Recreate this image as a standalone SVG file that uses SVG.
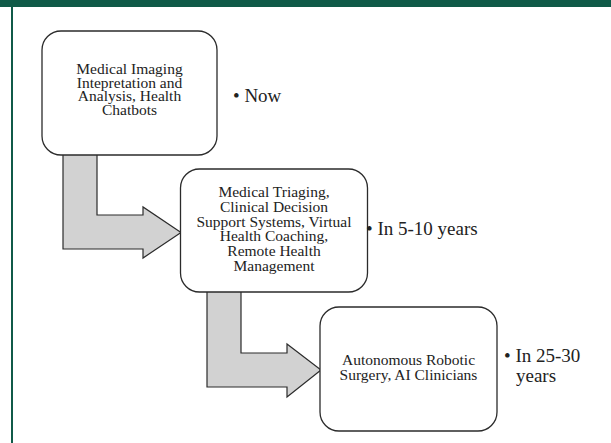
<svg xmlns="http://www.w3.org/2000/svg" width="611" height="443" viewBox="0 0 611 443">
<style>
.box{fill:#fff;stroke:#2b2b2b;stroke-width:1.3}
.arrow{fill:#d2d2d2;stroke:#2b2b2b;stroke-width:1.2;stroke-linejoin:miter}
.t{font-family:"Liberation Serif","Times New Roman",serif;font-size:15.5px;fill:#222;text-anchor:middle}
.b{font-family:"Liberation Serif","Times New Roman",serif;font-size:19px;fill:#222}
</style>
<rect x="0" y="0" width="611" height="443" fill="#fff"/>
<rect x="0" y="0" width="611" height="7" fill="#105a48"/>
<rect x="11" y="0" width="2" height="443" fill="#105a48"/>
<g id="connectors">
<path class="arrow" d="M63,150 V249 H143 V258 L181,232.5 L143,207 V215 H97 V150 Z"/>
<path class="arrow" d="M207,287 V387 H287 V397 L321,370 L287,344 V353 H241 V287 Z"/>
</g>
<g id="node1">
<rect class="box" x="42" y="31" width="175" height="124" rx="19"/>
<text class="t" x="129.5" y="74"><tspan x="129.5">Medical Imaging</tspan><tspan x="129.5" dy="13.7">Intepretation and</tspan><tspan x="129.5" dy="13.7">Analysis, Health</tspan><tspan x="129.5" dy="13.7">Chatbots</tspan></text>
</g>
<g id="label1">
<text class="b" x="233" y="102">• Now</text>
</g>
<g id="node2">
<rect class="box" x="180.5" y="169" width="187" height="123" rx="19"/>
<text class="t" x="274" y="197"><tspan x="274">Medical Triaging,</tspan><tspan x="274" dy="14.8">Clinical Decision</tspan><tspan x="274" dy="14.8">Support Systems, Virtual</tspan><tspan x="274" dy="14.8">Health Coaching,</tspan><tspan x="274" dy="14.8">Remote Health</tspan><tspan x="274" dy="14.8">Management</tspan></text>
</g>
<g id="label2">
<text class="b" x="366" y="235">• In 5-10 years</text>
</g>
<g id="node3">
<rect class="box" x="320" y="307" width="177" height="124" rx="19"/>
<text class="t" x="408.5" y="365"><tspan x="408.5">Autonomous Robotic</tspan><tspan x="408.5" dy="15">Surgery, AI Clinicians</tspan></text>
</g>
<g id="label3">
<text class="b" x="504" y="362"><tspan x="504">• In 25-30</tspan><tspan x="516" dy="20">years</tspan></text>
</g>
</svg>
